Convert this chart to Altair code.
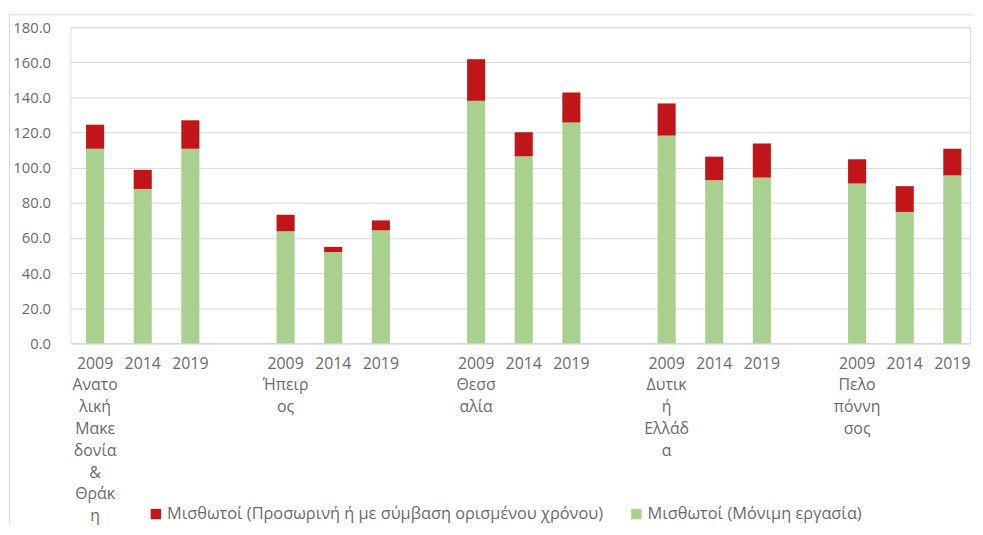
import json
import altair as alt
import pandas as pd

# ---- data ----
regions = ["Ανατολική Μακεδονία & Θράκη", "Ήπειρος", "Θεσσαλία", "Δυτική Ελλάδα", "Πελοπόννησος"]
region_label_lines = [
    ["Ανατο", "λική", "Μακε", "δονία", "&", "Θράκ", "η"],
    ["Ήπειρ", "ος"],
    ["Θεσσ", "αλία"],
    ["Δυτικ", "ή", "Ελλάδ", "α"],
    ["Πελο", "πόννη", "σος"],
]
years = ["2009", "2014", "2019"]
series_temp = "Μισθωτοί (Προσωρινή ή με σύμβαση ορισμένου χρόνου)"
series_perm = "Μισθωτοί (Μόνιμη εργασία)"
permanent = [110.8, 87.9, 110.8, 63.8, 51.9, 64.3, 138.1, 106.5, 125.8,
             118.3, 92.9, 94.4, 91.0, 74.8, 95.6]
temporary = [13.7, 10.9, 16.2, 9.4, 3.0, 5.7, 23.7, 13.7, 17.0,
             18.3, 13.4, 19.4, 13.8, 14.7, 15.2]
y_ticks = [0, 20, 40, 60, 80, 100, 120, 140, 160, 180]

# ---- build table: ordinal slots, one empty slot between regions ----
rows = []
slot_labels = []
slot = 0
for r, region in enumerate(regions):
    for k, year in enumerate(years):
        i = r * len(years) + k
        rows.append({"slot": str(slot), "region": region, "year": year,
                     "series": series_perm, "value": permanent[i], "ord": 0})
        rows.append({"slot": str(slot), "region": region, "year": year,
                     "series": series_temp, "value": temporary[i], "ord": 1})
        slot_labels.append([year] + (region_label_lines[r] if k == 0 else []))
        slot += 1
    if r < len(regions) - 1:
        slot_labels.append([""])
        slot += 1
df = pd.DataFrame(rows)
domain = [str(s) for s in range(slot)]

label_expr = json.dumps(slot_labels, ensure_ascii=False) + "[toNumber(datum.value)]"

text_color = "#6b6b6b"
frame_color = "#d9d9d9"

bars = (
    alt.Chart(df)
    .mark_bar()
    .encode(
        x=alt.X(
            "slot:N",
            scale=alt.Scale(domain=domain, paddingInner=0.62, paddingOuter=0.255, align=0.644),
            axis=alt.Axis(
                title=None, labelExpr=label_expr, labelAngle=0, ticks=False,
                domain=True, domainColor=frame_color, labelPadding=12,
                labelLineHeight=22, labelFontSize=16, labelColor=text_color,
                labelOverlap=False, labelFont="Open Sans",
            ),
        ),
        y=alt.Y(
            "value:Q",
            stack="zero",
            scale=alt.Scale(domain=[0, 180], nice=False),
            axis=alt.Axis(
                title=None, values=y_ticks, format=".1f", domain=False, ticks=False,
                labelPadding=20, labelFontSize=15, labelColor=text_color,
                gridColor=frame_color, labelFont="Open Sans",
            ),
        ),
        color=alt.Color(
            "series:N",
            scale=alt.Scale(domain=[series_temp, series_perm], range=["#C0161A", "#A9D08E"]),
            legend=alt.Legend(
                title=None, orient="none", legendX=78, legendY=483,
                direction="horizontal", symbolType="square", symbolSize=110,
                symbolStrokeWidth=0, labelFontSize=16.5, labelColor=text_color,
                labelFont="Open Sans", labelOffset=3, columnPadding=24, padding=0,
                labelLimit=700,
            ),
        ),
        order=alt.Order("ord:Q", sort="ascending"),
        tooltip=["region", "year", "series", "value"],
    )
)

# decorative outer frame (top and left edges of the chart box)
frame_df = pd.DataFrame({"edge": ["frame"]})
frame_top = alt.Chart(frame_df).mark_rule(color=frame_color, strokeWidth=1).encode(
    x=alt.value(-62), x2=alt.value(912), y=alt.value(-12.5)
)
frame_left = alt.Chart(frame_df).mark_rule(color=frame_color, strokeWidth=1).encode(
    x=alt.value(-61.5), y=alt.value(-12.5), y2=alt.value(501)
)

chart = (
    alt.layer(frame_top, frame_left, bars)
    .properties(
        width=908,
        height=319,
        padding={"left": 0, "top": 4, "right": 0, "bottom": 0},
    )
    .configure_view(stroke=None)
    .configure(font="Open Sans")
)

chart.save("out.html", embed_options={"renderer": "svg", "actions": False})
